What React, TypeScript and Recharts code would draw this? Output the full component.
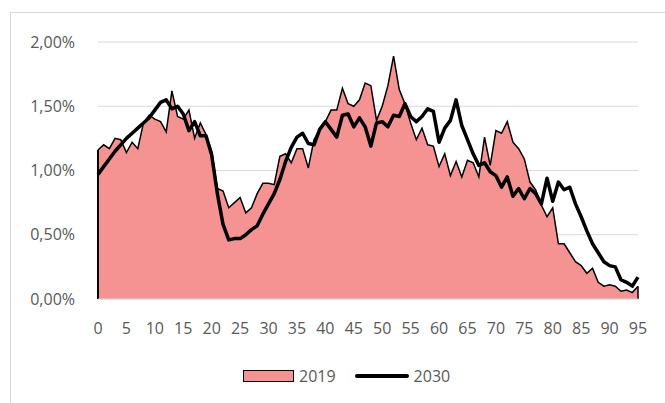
import React from "react";
import {
  ComposedChart,
  Area,
  Line,
  CartesianGrid,
  XAxis,
  YAxis,
  Legend,
  ReferenceLine,
} from "recharts";

// share of population by age (%)
const ages: number[] = Array.from({ length: 96 }, (_, i) => i);

const share2019: number[] = [
  1.16, 1.2, 1.17, 1.25, 1.24, 1.14, 1.22, 1.17, 1.37, 1.43,
  1.4, 1.38, 1.3, 1.62, 1.42, 1.4, 1.47, 1.25, 1.37, 1.28,
  1.15, 0.86, 0.84, 0.71, 0.75, 0.79, 0.67, 0.71, 0.82, 0.9,
  0.9, 0.89, 1.11, 1.13, 1.06, 1.17, 1.17, 1.02, 1.24, 1.32,
  1.38, 1.47, 1.47, 1.64, 1.52, 1.5, 1.55, 1.68, 1.66, 1.39,
  1.5, 1.66, 1.89, 1.63, 1.52, 1.37, 1.24, 1.33, 1.2, 1.19,
  1.03, 1.13, 0.96, 1.07, 0.95, 1.08, 1.06, 0.95, 1.26, 1.04,
  1.31, 1.29, 1.38, 1.22, 1.17, 1.09, 0.91, 0.85, 0.73, 0.64,
  0.71, 0.43, 0.43, 0.36, 0.29, 0.26, 0.2, 0.24, 0.13, 0.1,
  0.11, 0.1, 0.06, 0.07, 0.05, 0.1,
];

const share2030: number[] = [
  0.97, 1.03, 1.09, 1.15, 1.2, 1.25, 1.29, 1.33, 1.37, 1.41,
  1.47, 1.53, 1.55, 1.48, 1.5, 1.44, 1.31, 1.38, 1.27, 1.27,
  1.12, 0.82, 0.58, 0.46, 0.47, 0.47, 0.5, 0.54, 0.57, 0.66,
  0.74, 0.82, 0.93, 1.07, 1.18, 1.26, 1.29, 1.21, 1.2, 1.32,
  1.38, 1.32, 1.26, 1.43, 1.44, 1.34, 1.41, 1.34, 1.19, 1.37,
  1.38, 1.34, 1.43, 1.42, 1.52, 1.42, 1.38, 1.42, 1.48, 1.46,
  1.22, 1.33, 1.39, 1.55, 1.35, 1.24, 1.13, 1.04, 1.06, 0.99,
  0.96, 0.87, 0.95, 0.8, 0.86, 0.78, 0.86, 0.82, 0.74, 0.94,
  0.76, 0.91, 0.85, 0.87, 0.74, 0.64, 0.53, 0.43, 0.36, 0.29,
  0.26, 0.25, 0.15, 0.13, 0.1, 0.17,
];

const xTicks: number[] = [0, 5, 10, 15, 20, 25, 30, 35, 40, 45, 50, 55, 60, 65, 70, 75, 80, 85, 90, 95];
const yTicks: number[] = [0, 0.5, 1, 1.5, 2];

const data = ages.map((age, i) => ({
  age,
  y2019: share2019[i],
  y2030: share2030[i],
}));

const FONT = "'Open Sans', 'Noto Sans', sans-serif";
const TEXT = "#595959";
const GRID = "#d9d9d9";
const FILL = "#f49391";

const fmtPct = (v: number) => v.toFixed(2).replace(".", ",") + "%";

const renderLegend = () => (
  <div
    style={{
      display: "flex",
      alignItems: "center",
      height: 30,
      fontFamily: FONT,
      fontSize: 16,
      color: TEXT,
    }}
  >
    <span
      style={{
        display: "inline-block",
        width: 49,
        height: 10,
        background: FILL,
        border: "1.5px solid #000",
        marginRight: 5,
      }}
    />
    <span>2019</span>
    <span
      style={{
        display: "inline-block",
        width: 54,
        height: 4,
        background: "#000",
        borderRadius: 2,
        marginLeft: 19,
        marginRight: 5,
      }}
    />
    <span>2030</span>
  </div>
);

export default function App() {
  const last = ages.length - 1;
  return (
    <div
      style={{
        position: "absolute",
        left: 0,
        top: 0,
        width: 665,
        height: 403,
        overflow: "hidden",
        background: "#fff",
      }}
    >
      <div
        style={{
          position: "absolute",
          left: 10,
          top: 12,
          width: 700,
          height: 450,
          border: `1px solid ${GRID}`,
        }}
      />
      <ComposedChart
        width={665}
        height={403}
        data={data}
        margin={{ top: 42, right: 27, left: 0, bottom: 34 }}
        style={{ position: "absolute", left: 0, top: 0 }}
      >
        <CartesianGrid vertical={false} stroke={GRID} strokeWidth={1} />
        <XAxis
          dataKey="age"
          type="number"
          domain={[0, 95]}
          ticks={xTicks}
          interval={0}
          height={40}
          axisLine={{ stroke: GRID }}
          tickLine={false}
          tickSize={6}
          tickMargin={18}
          tick={{ fill: TEXT, fontSize: 16, fontFamily: FONT }}
        />
        <YAxis
          domain={[0, 2]}
          ticks={yTicks}
          width={98}
          axisLine={false}
          tickLine={false}
          tickSize={6}
          tickMargin={17}
          tickFormatter={fmtPct}
          tick={{ fill: TEXT, fontSize: 16, fontFamily: FONT }}
        />
        <Area
          type="linear"
          dataKey="y2019"
          name="2019"
          fill={FILL}
          fillOpacity={1}
          stroke="#000"
          strokeWidth={1.5}
          dot={false}
          activeDot={false}
          isAnimationActive={false}
        />
        <ReferenceLine
          segment={[
            { x: ages[0], y: 0 },
            { x: ages[0], y: share2019[0] },
          ]}
          stroke="#000"
          strokeWidth={2}
        />
        <ReferenceLine
          segment={[
            { x: ages[last], y: 0 },
            { x: ages[last], y: share2019[last] },
          ]}
          stroke="#000"
          strokeWidth={1.5}
        />
        <Line
          type="linear"
          dataKey="y2030"
          name="2030"
          stroke="#000"
          strokeWidth={3.5}
          strokeLinejoin="round"
          dot={false}
          activeDot={false}
          isAnimationActive={false}
        />
        <Legend
          verticalAlign="bottom"
          content={renderLegend}
          wrapperStyle={{ left: 243, width: 240, bottom: 12 }}
        />
      </ComposedChart>
    </div>
  );
}
